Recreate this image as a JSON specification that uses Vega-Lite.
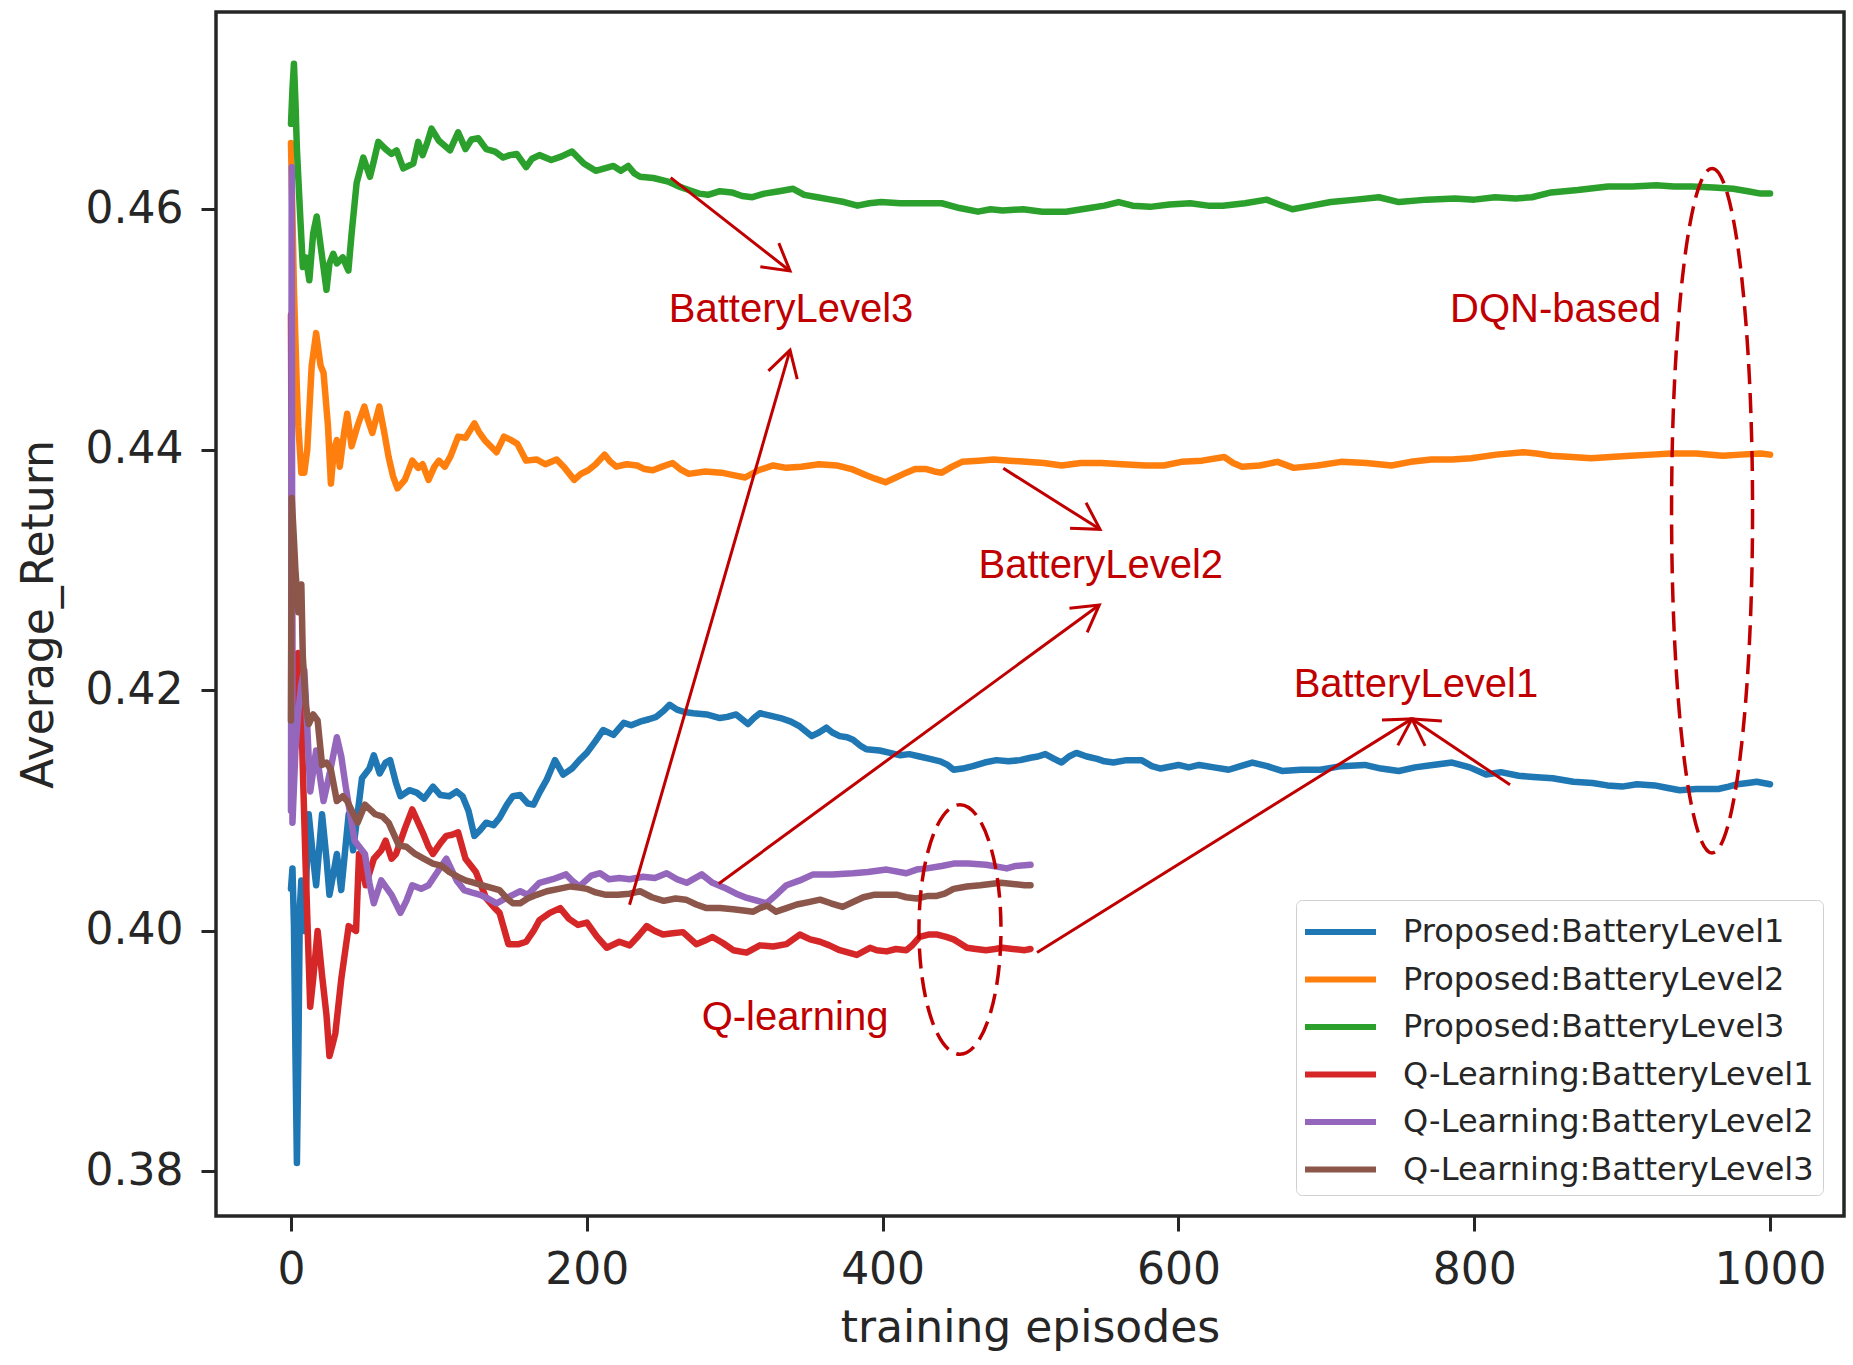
{
  "$schema": "https://vega.github.io/schema/vega-lite/v6.json",
  "width": 1628,
  "height": 1204,
  "autosize": {"type": "none"},
  "padding": {"left": 216, "top": 12, "right": 9, "bottom": 149},
  "background": "white",
  "config": {
    "view": {"stroke": "#262626", "strokeWidth": 3.5},
    "font": "DejaVu Sans",
    "axis": {
      "domain": false,
      "grid": false,
      "labelFont": "DejaVu Sans",
      "labelFontSize": 44,
      "labelColor": "#262626",
      "tickColor": "#262626",
      "tickSize": 15,
      "tickWidth": 3,
      "titleFont": "DejaVu Sans",
      "titleFontSize": 44,
      "titleFontWeight": "normal",
      "titleColor": "#262626"
    }
  },
  "datasets": {
    "curves": [
      {"series": "Proposed:BatteryLevel1", "episode": 0, "value": 0.4035},
      {"series": "Proposed:BatteryLevel1", "episode": 1, "value": 0.4052},
      {"series": "Proposed:BatteryLevel1", "episode": 2, "value": 0.4005},
      {"series": "Proposed:BatteryLevel1", "episode": 3, "value": 0.39},
      {"series": "Proposed:BatteryLevel1", "episode": 4, "value": 0.3807},
      {"series": "Proposed:BatteryLevel1", "episode": 5, "value": 0.39},
      {"series": "Proposed:BatteryLevel1", "episode": 6, "value": 0.402},
      {"series": "Proposed:BatteryLevel1", "episode": 7, "value": 0.4042},
      {"series": "Proposed:BatteryLevel1", "episode": 9, "value": 0.4},
      {"series": "Proposed:BatteryLevel1", "episode": 12, "value": 0.4097},
      {"series": "Proposed:BatteryLevel1", "episode": 15, "value": 0.406},
      {"series": "Proposed:BatteryLevel1", "episode": 17, "value": 0.4038},
      {"series": "Proposed:BatteryLevel1", "episode": 21, "value": 0.4097},
      {"series": "Proposed:BatteryLevel1", "episode": 24, "value": 0.406},
      {"series": "Proposed:BatteryLevel1", "episode": 26, "value": 0.403},
      {"series": "Proposed:BatteryLevel1", "episode": 29, "value": 0.405},
      {"series": "Proposed:BatteryLevel1", "episode": 31, "value": 0.4064},
      {"series": "Proposed:BatteryLevel1", "episode": 34, "value": 0.4034},
      {"series": "Proposed:BatteryLevel1", "episode": 39, "value": 0.4097},
      {"series": "Proposed:BatteryLevel1", "episode": 42, "value": 0.4067},
      {"series": "Proposed:BatteryLevel1", "episode": 48, "value": 0.4127},
      {"series": "Proposed:BatteryLevel1", "episode": 53, "value": 0.4135},
      {"series": "Proposed:BatteryLevel1", "episode": 56, "value": 0.4146},
      {"series": "Proposed:BatteryLevel1", "episode": 60, "value": 0.4131},
      {"series": "Proposed:BatteryLevel1", "episode": 64, "value": 0.414},
      {"series": "Proposed:BatteryLevel1", "episode": 67, "value": 0.4142},
      {"series": "Proposed:BatteryLevel1", "episode": 71, "value": 0.4123},
      {"series": "Proposed:BatteryLevel1", "episode": 74, "value": 0.4112},
      {"series": "Proposed:BatteryLevel1", "episode": 80, "value": 0.4117},
      {"series": "Proposed:BatteryLevel1", "episode": 85, "value": 0.4115},
      {"series": "Proposed:BatteryLevel1", "episode": 90, "value": 0.411},
      {"series": "Proposed:BatteryLevel1", "episode": 96, "value": 0.412},
      {"series": "Proposed:BatteryLevel1", "episode": 101, "value": 0.4113},
      {"series": "Proposed:BatteryLevel1", "episode": 107, "value": 0.4112},
      {"series": "Proposed:BatteryLevel1", "episode": 112, "value": 0.4116},
      {"series": "Proposed:BatteryLevel1", "episode": 116, "value": 0.4112},
      {"series": "Proposed:BatteryLevel1", "episode": 120, "value": 0.41},
      {"series": "Proposed:BatteryLevel1", "episode": 124, "value": 0.4079},
      {"series": "Proposed:BatteryLevel1", "episode": 128, "value": 0.4084},
      {"series": "Proposed:BatteryLevel1", "episode": 132, "value": 0.409},
      {"series": "Proposed:BatteryLevel1", "episode": 137, "value": 0.4088},
      {"series": "Proposed:BatteryLevel1", "episode": 141, "value": 0.4094},
      {"series": "Proposed:BatteryLevel1", "episode": 146, "value": 0.4105},
      {"series": "Proposed:BatteryLevel1", "episode": 150, "value": 0.4112},
      {"series": "Proposed:BatteryLevel1", "episode": 155, "value": 0.4113},
      {"series": "Proposed:BatteryLevel1", "episode": 160, "value": 0.4106},
      {"series": "Proposed:BatteryLevel1", "episode": 164, "value": 0.4105},
      {"series": "Proposed:BatteryLevel1", "episode": 168, "value": 0.4115},
      {"series": "Proposed:BatteryLevel1", "episode": 173, "value": 0.4126},
      {"series": "Proposed:BatteryLevel1", "episode": 178.5, "value": 0.4142},
      {"series": "Proposed:BatteryLevel1", "episode": 184, "value": 0.413},
      {"series": "Proposed:BatteryLevel1", "episode": 190, "value": 0.4135},
      {"series": "Proposed:BatteryLevel1", "episode": 195, "value": 0.4142},
      {"series": "Proposed:BatteryLevel1", "episode": 200, "value": 0.4148},
      {"series": "Proposed:BatteryLevel1", "episode": 206, "value": 0.4158},
      {"series": "Proposed:BatteryLevel1", "episode": 211, "value": 0.4167},
      {"series": "Proposed:BatteryLevel1", "episode": 218, "value": 0.4163},
      {"series": "Proposed:BatteryLevel1", "episode": 225, "value": 0.4173},
      {"series": "Proposed:BatteryLevel1", "episode": 230, "value": 0.4171},
      {"series": "Proposed:BatteryLevel1", "episode": 236, "value": 0.4174},
      {"series": "Proposed:BatteryLevel1", "episode": 242, "value": 0.4176},
      {"series": "Proposed:BatteryLevel1", "episode": 247, "value": 0.4178},
      {"series": "Proposed:BatteryLevel1", "episode": 252, "value": 0.4183},
      {"series": "Proposed:BatteryLevel1", "episode": 256, "value": 0.4188},
      {"series": "Proposed:BatteryLevel1", "episode": 261, "value": 0.4184},
      {"series": "Proposed:BatteryLevel1", "episode": 266, "value": 0.4182},
      {"series": "Proposed:BatteryLevel1", "episode": 272, "value": 0.4181},
      {"series": "Proposed:BatteryLevel1", "episode": 281, "value": 0.418},
      {"series": "Proposed:BatteryLevel1", "episode": 290, "value": 0.4177},
      {"series": "Proposed:BatteryLevel1", "episode": 295, "value": 0.4178},
      {"series": "Proposed:BatteryLevel1", "episode": 301, "value": 0.418},
      {"series": "Proposed:BatteryLevel1", "episode": 305, "value": 0.4176},
      {"series": "Proposed:BatteryLevel1", "episode": 309, "value": 0.4172},
      {"series": "Proposed:BatteryLevel1", "episode": 313, "value": 0.4177},
      {"series": "Proposed:BatteryLevel1", "episode": 317, "value": 0.4181},
      {"series": "Proposed:BatteryLevel1", "episode": 324, "value": 0.4179},
      {"series": "Proposed:BatteryLevel1", "episode": 331, "value": 0.4177},
      {"series": "Proposed:BatteryLevel1", "episode": 338, "value": 0.4174},
      {"series": "Proposed:BatteryLevel1", "episode": 344, "value": 0.417},
      {"series": "Proposed:BatteryLevel1", "episode": 348, "value": 0.4166},
      {"series": "Proposed:BatteryLevel1", "episode": 352, "value": 0.4162},
      {"series": "Proposed:BatteryLevel1", "episode": 357, "value": 0.4165},
      {"series": "Proposed:BatteryLevel1", "episode": 362, "value": 0.4169},
      {"series": "Proposed:BatteryLevel1", "episode": 366, "value": 0.4165},
      {"series": "Proposed:BatteryLevel1", "episode": 371, "value": 0.4162},
      {"series": "Proposed:BatteryLevel1", "episode": 376, "value": 0.4161},
      {"series": "Proposed:BatteryLevel1", "episode": 380, "value": 0.4159},
      {"series": "Proposed:BatteryLevel1", "episode": 385, "value": 0.4154},
      {"series": "Proposed:BatteryLevel1", "episode": 389, "value": 0.4151},
      {"series": "Proposed:BatteryLevel1", "episode": 398, "value": 0.415},
      {"series": "Proposed:BatteryLevel1", "episode": 405, "value": 0.4148},
      {"series": "Proposed:BatteryLevel1", "episode": 412, "value": 0.4146},
      {"series": "Proposed:BatteryLevel1", "episode": 418, "value": 0.4147},
      {"series": "Proposed:BatteryLevel1", "episode": 425, "value": 0.4145},
      {"series": "Proposed:BatteryLevel1", "episode": 432, "value": 0.4143},
      {"series": "Proposed:BatteryLevel1", "episode": 439, "value": 0.4141},
      {"series": "Proposed:BatteryLevel1", "episode": 444, "value": 0.4138},
      {"series": "Proposed:BatteryLevel1", "episode": 448, "value": 0.4134},
      {"series": "Proposed:BatteryLevel1", "episode": 454, "value": 0.4135},
      {"series": "Proposed:BatteryLevel1", "episode": 461, "value": 0.4137},
      {"series": "Proposed:BatteryLevel1", "episode": 469, "value": 0.414},
      {"series": "Proposed:BatteryLevel1", "episode": 477, "value": 0.4142},
      {"series": "Proposed:BatteryLevel1", "episode": 485, "value": 0.4141},
      {"series": "Proposed:BatteryLevel1", "episode": 493, "value": 0.4142},
      {"series": "Proposed:BatteryLevel1", "episode": 500, "value": 0.4144},
      {"series": "Proposed:BatteryLevel1", "episode": 505, "value": 0.4145},
      {"series": "Proposed:BatteryLevel1", "episode": 510, "value": 0.4147},
      {"series": "Proposed:BatteryLevel1", "episode": 516, "value": 0.4143},
      {"series": "Proposed:BatteryLevel1", "episode": 521, "value": 0.414},
      {"series": "Proposed:BatteryLevel1", "episode": 526, "value": 0.4145},
      {"series": "Proposed:BatteryLevel1", "episode": 531, "value": 0.4148},
      {"series": "Proposed:BatteryLevel1", "episode": 538, "value": 0.4145},
      {"series": "Proposed:BatteryLevel1", "episode": 545, "value": 0.4143},
      {"series": "Proposed:BatteryLevel1", "episode": 550, "value": 0.4141},
      {"series": "Proposed:BatteryLevel1", "episode": 556, "value": 0.414},
      {"series": "Proposed:BatteryLevel1", "episode": 565, "value": 0.4142},
      {"series": "Proposed:BatteryLevel1", "episode": 575, "value": 0.4142},
      {"series": "Proposed:BatteryLevel1", "episode": 582, "value": 0.4137},
      {"series": "Proposed:BatteryLevel1", "episode": 588, "value": 0.4135},
      {"series": "Proposed:BatteryLevel1", "episode": 600, "value": 0.4138},
      {"series": "Proposed:BatteryLevel1", "episode": 607, "value": 0.4136},
      {"series": "Proposed:BatteryLevel1", "episode": 614, "value": 0.4138},
      {"series": "Proposed:BatteryLevel1", "episode": 624, "value": 0.4136},
      {"series": "Proposed:BatteryLevel1", "episode": 634, "value": 0.4134},
      {"series": "Proposed:BatteryLevel1", "episode": 642, "value": 0.4137},
      {"series": "Proposed:BatteryLevel1", "episode": 650, "value": 0.414},
      {"series": "Proposed:BatteryLevel1", "episode": 660, "value": 0.4137},
      {"series": "Proposed:BatteryLevel1", "episode": 670, "value": 0.4133},
      {"series": "Proposed:BatteryLevel1", "episode": 683, "value": 0.4134},
      {"series": "Proposed:BatteryLevel1", "episode": 696, "value": 0.4134},
      {"series": "Proposed:BatteryLevel1", "episode": 710, "value": 0.4137},
      {"series": "Proposed:BatteryLevel1", "episode": 726, "value": 0.4138},
      {"series": "Proposed:BatteryLevel1", "episode": 737, "value": 0.4135},
      {"series": "Proposed:BatteryLevel1", "episode": 749, "value": 0.4133},
      {"series": "Proposed:BatteryLevel1", "episode": 760, "value": 0.4136},
      {"series": "Proposed:BatteryLevel1", "episode": 772, "value": 0.4138},
      {"series": "Proposed:BatteryLevel1", "episode": 785, "value": 0.414},
      {"series": "Proposed:BatteryLevel1", "episode": 797, "value": 0.4136},
      {"series": "Proposed:BatteryLevel1", "episode": 808, "value": 0.413},
      {"series": "Proposed:BatteryLevel1", "episode": 818, "value": 0.4132},
      {"series": "Proposed:BatteryLevel1", "episode": 830, "value": 0.4129},
      {"series": "Proposed:BatteryLevel1", "episode": 840, "value": 0.4128},
      {"series": "Proposed:BatteryLevel1", "episode": 853, "value": 0.4127},
      {"series": "Proposed:BatteryLevel1", "episode": 867, "value": 0.4124},
      {"series": "Proposed:BatteryLevel1", "episode": 880, "value": 0.4123},
      {"series": "Proposed:BatteryLevel1", "episode": 890, "value": 0.4121},
      {"series": "Proposed:BatteryLevel1", "episode": 900, "value": 0.412},
      {"series": "Proposed:BatteryLevel1", "episode": 910, "value": 0.4122},
      {"series": "Proposed:BatteryLevel1", "episode": 922, "value": 0.4121},
      {"series": "Proposed:BatteryLevel1", "episode": 930, "value": 0.4119},
      {"series": "Proposed:BatteryLevel1", "episode": 939, "value": 0.4117},
      {"series": "Proposed:BatteryLevel1", "episode": 950, "value": 0.4118},
      {"series": "Proposed:BatteryLevel1", "episode": 965, "value": 0.4118},
      {"series": "Proposed:BatteryLevel1", "episode": 972, "value": 0.412},
      {"series": "Proposed:BatteryLevel1", "episode": 978, "value": 0.4122},
      {"series": "Proposed:BatteryLevel1", "episode": 985, "value": 0.4123},
      {"series": "Proposed:BatteryLevel1", "episode": 991, "value": 0.4124},
      {"series": "Proposed:BatteryLevel1", "episode": 1000, "value": 0.4122},

      {"series": "Proposed:BatteryLevel2", "episode": 0, "value": 0.4655},
      {"series": "Proposed:BatteryLevel2", "episode": 1, "value": 0.4594},
      {"series": "Proposed:BatteryLevel2", "episode": 2, "value": 0.4533},
      {"series": "Proposed:BatteryLevel2", "episode": 3, "value": 0.4491},
      {"series": "Proposed:BatteryLevel2", "episode": 4, "value": 0.445},
      {"series": "Proposed:BatteryLevel2", "episode": 5, "value": 0.4419},
      {"series": "Proposed:BatteryLevel2", "episode": 7, "value": 0.4381},
      {"series": "Proposed:BatteryLevel2", "episode": 9, "value": 0.4381},
      {"series": "Proposed:BatteryLevel2", "episode": 11, "value": 0.44},
      {"series": "Proposed:BatteryLevel2", "episode": 14, "value": 0.447},
      {"series": "Proposed:BatteryLevel2", "episode": 17, "value": 0.4497},
      {"series": "Proposed:BatteryLevel2", "episode": 20, "value": 0.447},
      {"series": "Proposed:BatteryLevel2", "episode": 22, "value": 0.4464},
      {"series": "Proposed:BatteryLevel2", "episode": 25, "value": 0.442},
      {"series": "Proposed:BatteryLevel2", "episode": 27, "value": 0.4372},
      {"series": "Proposed:BatteryLevel2", "episode": 29, "value": 0.44},
      {"series": "Proposed:BatteryLevel2", "episode": 31, "value": 0.4408},
      {"series": "Proposed:BatteryLevel2", "episode": 33, "value": 0.4386},
      {"series": "Proposed:BatteryLevel2", "episode": 36, "value": 0.4415},
      {"series": "Proposed:BatteryLevel2", "episode": 38, "value": 0.443},
      {"series": "Proposed:BatteryLevel2", "episode": 41, "value": 0.4403},
      {"series": "Proposed:BatteryLevel2", "episode": 45, "value": 0.442},
      {"series": "Proposed:BatteryLevel2", "episode": 49.6, "value": 0.4436},
      {"series": "Proposed:BatteryLevel2", "episode": 52, "value": 0.4425},
      {"series": "Proposed:BatteryLevel2", "episode": 55, "value": 0.4414},
      {"series": "Proposed:BatteryLevel2", "episode": 59.7, "value": 0.4436},
      {"series": "Proposed:BatteryLevel2", "episode": 63, "value": 0.4415},
      {"series": "Proposed:BatteryLevel2", "episode": 66, "value": 0.4394},
      {"series": "Proposed:BatteryLevel2", "episode": 69, "value": 0.4378},
      {"series": "Proposed:BatteryLevel2", "episode": 72, "value": 0.4368},
      {"series": "Proposed:BatteryLevel2", "episode": 77, "value": 0.4375},
      {"series": "Proposed:BatteryLevel2", "episode": 82, "value": 0.4391},
      {"series": "Proposed:BatteryLevel2", "episode": 86, "value": 0.4385},
      {"series": "Proposed:BatteryLevel2", "episode": 89, "value": 0.4388},
      {"series": "Proposed:BatteryLevel2", "episode": 93, "value": 0.4375},
      {"series": "Proposed:BatteryLevel2", "episode": 97, "value": 0.4386},
      {"series": "Proposed:BatteryLevel2", "episode": 100, "value": 0.4391},
      {"series": "Proposed:BatteryLevel2", "episode": 104, "value": 0.4386},
      {"series": "Proposed:BatteryLevel2", "episode": 108, "value": 0.4395},
      {"series": "Proposed:BatteryLevel2", "episode": 113, "value": 0.4411},
      {"series": "Proposed:BatteryLevel2", "episode": 118, "value": 0.441},
      {"series": "Proposed:BatteryLevel2", "episode": 124, "value": 0.4422},
      {"series": "Proposed:BatteryLevel2", "episode": 127, "value": 0.4415},
      {"series": "Proposed:BatteryLevel2", "episode": 131, "value": 0.4408},
      {"series": "Proposed:BatteryLevel2", "episode": 135, "value": 0.4403},
      {"series": "Proposed:BatteryLevel2", "episode": 139, "value": 0.4398},
      {"series": "Proposed:BatteryLevel2", "episode": 144, "value": 0.4411},
      {"series": "Proposed:BatteryLevel2", "episode": 149, "value": 0.4408},
      {"series": "Proposed:BatteryLevel2", "episode": 153, "value": 0.4405},
      {"series": "Proposed:BatteryLevel2", "episode": 159, "value": 0.4391},
      {"series": "Proposed:BatteryLevel2", "episode": 166, "value": 0.4392},
      {"series": "Proposed:BatteryLevel2", "episode": 172, "value": 0.4388},
      {"series": "Proposed:BatteryLevel2", "episode": 179.6, "value": 0.4392},
      {"series": "Proposed:BatteryLevel2", "episode": 185, "value": 0.4385},
      {"series": "Proposed:BatteryLevel2", "episode": 191.5, "value": 0.4375},
      {"series": "Proposed:BatteryLevel2", "episode": 196, "value": 0.438},
      {"series": "Proposed:BatteryLevel2", "episode": 201, "value": 0.4383},
      {"series": "Proposed:BatteryLevel2", "episode": 206, "value": 0.4388},
      {"series": "Proposed:BatteryLevel2", "episode": 212, "value": 0.4396},
      {"series": "Proposed:BatteryLevel2", "episode": 216, "value": 0.439},
      {"series": "Proposed:BatteryLevel2", "episode": 220, "value": 0.4386},
      {"series": "Proposed:BatteryLevel2", "episode": 227, "value": 0.4388},
      {"series": "Proposed:BatteryLevel2", "episode": 234, "value": 0.4387},
      {"series": "Proposed:BatteryLevel2", "episode": 239, "value": 0.4384},
      {"series": "Proposed:BatteryLevel2", "episode": 244.6, "value": 0.4383},
      {"series": "Proposed:BatteryLevel2", "episode": 251, "value": 0.4386},
      {"series": "Proposed:BatteryLevel2", "episode": 258, "value": 0.4389},
      {"series": "Proposed:BatteryLevel2", "episode": 263, "value": 0.4384},
      {"series": "Proposed:BatteryLevel2", "episode": 269, "value": 0.438},
      {"series": "Proposed:BatteryLevel2", "episode": 280, "value": 0.4382},
      {"series": "Proposed:BatteryLevel2", "episode": 291, "value": 0.4381},
      {"series": "Proposed:BatteryLevel2", "episode": 299, "value": 0.4379},
      {"series": "Proposed:BatteryLevel2", "episode": 307, "value": 0.4377},
      {"series": "Proposed:BatteryLevel2", "episode": 316, "value": 0.4383},
      {"series": "Proposed:BatteryLevel2", "episode": 326, "value": 0.4387},
      {"series": "Proposed:BatteryLevel2", "episode": 335, "value": 0.4385},
      {"series": "Proposed:BatteryLevel2", "episode": 345, "value": 0.4386},
      {"series": "Proposed:BatteryLevel2", "episode": 357, "value": 0.4388},
      {"series": "Proposed:BatteryLevel2", "episode": 369, "value": 0.4387},
      {"series": "Proposed:BatteryLevel2", "episode": 379, "value": 0.4384},
      {"series": "Proposed:BatteryLevel2", "episode": 388.5, "value": 0.4379},
      {"series": "Proposed:BatteryLevel2", "episode": 395, "value": 0.4376},
      {"series": "Proposed:BatteryLevel2", "episode": 402, "value": 0.4373},
      {"series": "Proposed:BatteryLevel2", "episode": 409, "value": 0.4377},
      {"series": "Proposed:BatteryLevel2", "episode": 416, "value": 0.4381},
      {"series": "Proposed:BatteryLevel2", "episode": 422, "value": 0.4384},
      {"series": "Proposed:BatteryLevel2", "episode": 429.6, "value": 0.4384},
      {"series": "Proposed:BatteryLevel2", "episode": 435, "value": 0.4382},
      {"series": "Proposed:BatteryLevel2", "episode": 440, "value": 0.4381},
      {"series": "Proposed:BatteryLevel2", "episode": 447, "value": 0.4386},
      {"series": "Proposed:BatteryLevel2", "episode": 453.7, "value": 0.439},
      {"series": "Proposed:BatteryLevel2", "episode": 465, "value": 0.4391},
      {"series": "Proposed:BatteryLevel2", "episode": 475, "value": 0.4392},
      {"series": "Proposed:BatteryLevel2", "episode": 486, "value": 0.4391},
      {"series": "Proposed:BatteryLevel2", "episode": 497, "value": 0.439},
      {"series": "Proposed:BatteryLevel2", "episode": 509, "value": 0.4389},
      {"series": "Proposed:BatteryLevel2", "episode": 521, "value": 0.4387},
      {"series": "Proposed:BatteryLevel2", "episode": 534, "value": 0.4389},
      {"series": "Proposed:BatteryLevel2", "episode": 548, "value": 0.4389},
      {"series": "Proposed:BatteryLevel2", "episode": 562, "value": 0.4388},
      {"series": "Proposed:BatteryLevel2", "episode": 578, "value": 0.4387},
      {"series": "Proposed:BatteryLevel2", "episode": 590, "value": 0.4387},
      {"series": "Proposed:BatteryLevel2", "episode": 602, "value": 0.439},
      {"series": "Proposed:BatteryLevel2", "episode": 616, "value": 0.4391},
      {"series": "Proposed:BatteryLevel2", "episode": 631, "value": 0.4394},
      {"series": "Proposed:BatteryLevel2", "episode": 637, "value": 0.4389},
      {"series": "Proposed:BatteryLevel2", "episode": 643, "value": 0.4386},
      {"series": "Proposed:BatteryLevel2", "episode": 655, "value": 0.4387},
      {"series": "Proposed:BatteryLevel2", "episode": 667, "value": 0.439},
      {"series": "Proposed:BatteryLevel2", "episode": 678, "value": 0.4385},
      {"series": "Proposed:BatteryLevel2", "episode": 694, "value": 0.4387},
      {"series": "Proposed:BatteryLevel2", "episode": 710, "value": 0.439},
      {"series": "Proposed:BatteryLevel2", "episode": 727, "value": 0.4389},
      {"series": "Proposed:BatteryLevel2", "episode": 744, "value": 0.4387},
      {"series": "Proposed:BatteryLevel2", "episode": 757, "value": 0.439},
      {"series": "Proposed:BatteryLevel2", "episode": 771, "value": 0.4392},
      {"series": "Proposed:BatteryLevel2", "episode": 785, "value": 0.4392},
      {"series": "Proposed:BatteryLevel2", "episode": 798, "value": 0.4393},
      {"series": "Proposed:BatteryLevel2", "episode": 815, "value": 0.4396},
      {"series": "Proposed:BatteryLevel2", "episode": 833, "value": 0.4398},
      {"series": "Proposed:BatteryLevel2", "episode": 842, "value": 0.4397},
      {"series": "Proposed:BatteryLevel2", "episode": 852, "value": 0.4395},
      {"series": "Proposed:BatteryLevel2", "episode": 866, "value": 0.4394},
      {"series": "Proposed:BatteryLevel2", "episode": 879, "value": 0.4393},
      {"series": "Proposed:BatteryLevel2", "episode": 892, "value": 0.4394},
      {"series": "Proposed:BatteryLevel2", "episode": 906, "value": 0.4395},
      {"series": "Proposed:BatteryLevel2", "episode": 920, "value": 0.4396},
      {"series": "Proposed:BatteryLevel2", "episode": 933, "value": 0.4397},
      {"series": "Proposed:BatteryLevel2", "episode": 950, "value": 0.4397},
      {"series": "Proposed:BatteryLevel2", "episode": 968, "value": 0.4395},
      {"series": "Proposed:BatteryLevel2", "episode": 980, "value": 0.4396},
      {"series": "Proposed:BatteryLevel2", "episode": 993.7, "value": 0.4397},
      {"series": "Proposed:BatteryLevel2", "episode": 1000, "value": 0.4396},

      {"series": "Proposed:BatteryLevel3", "episode": 0, "value": 0.4671},
      {"series": "Proposed:BatteryLevel3", "episode": 1, "value": 0.47},
      {"series": "Proposed:BatteryLevel3", "episode": 2, "value": 0.4721},
      {"series": "Proposed:BatteryLevel3", "episode": 3, "value": 0.469},
      {"series": "Proposed:BatteryLevel3", "episode": 4, "value": 0.465},
      {"series": "Proposed:BatteryLevel3", "episode": 6, "value": 0.46},
      {"series": "Proposed:BatteryLevel3", "episode": 8, "value": 0.4552},
      {"series": "Proposed:BatteryLevel3", "episode": 10, "value": 0.456},
      {"series": "Proposed:BatteryLevel3", "episode": 12.4, "value": 0.4541},
      {"series": "Proposed:BatteryLevel3", "episode": 15, "value": 0.458},
      {"series": "Proposed:BatteryLevel3", "episode": 17.4, "value": 0.4594},
      {"series": "Proposed:BatteryLevel3", "episode": 20, "value": 0.457},
      {"series": "Proposed:BatteryLevel3", "episode": 24, "value": 0.4533},
      {"series": "Proposed:BatteryLevel3", "episode": 26, "value": 0.4555},
      {"series": "Proposed:BatteryLevel3", "episode": 28.6, "value": 0.4563},
      {"series": "Proposed:BatteryLevel3", "episode": 31, "value": 0.4555},
      {"series": "Proposed:BatteryLevel3", "episode": 35, "value": 0.456},
      {"series": "Proposed:BatteryLevel3", "episode": 38.8, "value": 0.4549},
      {"series": "Proposed:BatteryLevel3", "episode": 41, "value": 0.458},
      {"series": "Proposed:BatteryLevel3", "episode": 44.4, "value": 0.4622},
      {"series": "Proposed:BatteryLevel3", "episode": 48.9, "value": 0.4643},
      {"series": "Proposed:BatteryLevel3", "episode": 53.4, "value": 0.4627},
      {"series": "Proposed:BatteryLevel3", "episode": 56, "value": 0.464},
      {"series": "Proposed:BatteryLevel3", "episode": 59, "value": 0.4656},
      {"series": "Proposed:BatteryLevel3", "episode": 64, "value": 0.465},
      {"series": "Proposed:BatteryLevel3", "episode": 68, "value": 0.4646},
      {"series": "Proposed:BatteryLevel3", "episode": 71.4, "value": 0.4649},
      {"series": "Proposed:BatteryLevel3", "episode": 75.9, "value": 0.4634},
      {"series": "Proposed:BatteryLevel3", "episode": 82.7, "value": 0.4638},
      {"series": "Proposed:BatteryLevel3", "episode": 86, "value": 0.4656},
      {"series": "Proposed:BatteryLevel3", "episode": 89, "value": 0.4645},
      {"series": "Proposed:BatteryLevel3", "episode": 92, "value": 0.4655},
      {"series": "Proposed:BatteryLevel3", "episode": 95, "value": 0.4667},
      {"series": "Proposed:BatteryLevel3", "episode": 100, "value": 0.4657},
      {"series": "Proposed:BatteryLevel3", "episode": 107.5, "value": 0.4649},
      {"series": "Proposed:BatteryLevel3", "episode": 113, "value": 0.4664},
      {"series": "Proposed:BatteryLevel3", "episode": 118, "value": 0.465},
      {"series": "Proposed:BatteryLevel3", "episode": 122, "value": 0.4658},
      {"series": "Proposed:BatteryLevel3", "episode": 126.6, "value": 0.4659},
      {"series": "Proposed:BatteryLevel3", "episode": 132, "value": 0.465},
      {"series": "Proposed:BatteryLevel3", "episode": 138, "value": 0.4648},
      {"series": "Proposed:BatteryLevel3", "episode": 143.5, "value": 0.4643},
      {"series": "Proposed:BatteryLevel3", "episode": 148, "value": 0.4645},
      {"series": "Proposed:BatteryLevel3", "episode": 152.6, "value": 0.4646},
      {"series": "Proposed:BatteryLevel3", "episode": 159, "value": 0.4635},
      {"series": "Proposed:BatteryLevel3", "episode": 163, "value": 0.4642},
      {"series": "Proposed:BatteryLevel3", "episode": 168, "value": 0.4645},
      {"series": "Proposed:BatteryLevel3", "episode": 176, "value": 0.4641},
      {"series": "Proposed:BatteryLevel3", "episode": 183, "value": 0.4644},
      {"series": "Proposed:BatteryLevel3", "episode": 190, "value": 0.4648},
      {"series": "Proposed:BatteryLevel3", "episode": 198, "value": 0.4638},
      {"series": "Proposed:BatteryLevel3", "episode": 206, "value": 0.4632},
      {"series": "Proposed:BatteryLevel3", "episode": 212, "value": 0.4634},
      {"series": "Proposed:BatteryLevel3", "episode": 218, "value": 0.4636},
      {"series": "Proposed:BatteryLevel3", "episode": 223, "value": 0.4632},
      {"series": "Proposed:BatteryLevel3", "episode": 228, "value": 0.4636},
      {"series": "Proposed:BatteryLevel3", "episode": 232, "value": 0.463},
      {"series": "Proposed:BatteryLevel3", "episode": 236, "value": 0.4627},
      {"series": "Proposed:BatteryLevel3", "episode": 245, "value": 0.4626},
      {"series": "Proposed:BatteryLevel3", "episode": 255, "value": 0.4623},
      {"series": "Proposed:BatteryLevel3", "episode": 262, "value": 0.4619},
      {"series": "Proposed:BatteryLevel3", "episode": 269, "value": 0.4616},
      {"series": "Proposed:BatteryLevel3", "episode": 276, "value": 0.4613},
      {"series": "Proposed:BatteryLevel3", "episode": 282, "value": 0.4612},
      {"series": "Proposed:BatteryLevel3", "episode": 290, "value": 0.4615},
      {"series": "Proposed:BatteryLevel3", "episode": 298, "value": 0.4614},
      {"series": "Proposed:BatteryLevel3", "episode": 305, "value": 0.4611},
      {"series": "Proposed:BatteryLevel3", "episode": 312, "value": 0.461},
      {"series": "Proposed:BatteryLevel3", "episode": 320, "value": 0.4613},
      {"series": "Proposed:BatteryLevel3", "episode": 330, "value": 0.4615},
      {"series": "Proposed:BatteryLevel3", "episode": 339.5, "value": 0.4617},
      {"series": "Proposed:BatteryLevel3", "episode": 347, "value": 0.4612},
      {"series": "Proposed:BatteryLevel3", "episode": 356, "value": 0.461},
      {"series": "Proposed:BatteryLevel3", "episode": 365, "value": 0.4608},
      {"series": "Proposed:BatteryLevel3", "episode": 374, "value": 0.4606},
      {"series": "Proposed:BatteryLevel3", "episode": 383, "value": 0.4603},
      {"series": "Proposed:BatteryLevel3", "episode": 391, "value": 0.4605},
      {"series": "Proposed:BatteryLevel3", "episode": 399, "value": 0.4606},
      {"series": "Proposed:BatteryLevel3", "episode": 412, "value": 0.4605},
      {"series": "Proposed:BatteryLevel3", "episode": 426.5, "value": 0.4605},
      {"series": "Proposed:BatteryLevel3", "episode": 440, "value": 0.4605},
      {"series": "Proposed:BatteryLevel3", "episode": 452, "value": 0.4601},
      {"series": "Proposed:BatteryLevel3", "episode": 464.5, "value": 0.4598},
      {"series": "Proposed:BatteryLevel3", "episode": 473, "value": 0.46},
      {"series": "Proposed:BatteryLevel3", "episode": 481, "value": 0.4599},
      {"series": "Proposed:BatteryLevel3", "episode": 495, "value": 0.46},
      {"series": "Proposed:BatteryLevel3", "episode": 508, "value": 0.4598},
      {"series": "Proposed:BatteryLevel3", "episode": 524, "value": 0.4598},
      {"series": "Proposed:BatteryLevel3", "episode": 540, "value": 0.4601},
      {"series": "Proposed:BatteryLevel3", "episode": 550, "value": 0.4603},
      {"series": "Proposed:BatteryLevel3", "episode": 559.6, "value": 0.4606},
      {"series": "Proposed:BatteryLevel3", "episode": 569, "value": 0.4603},
      {"series": "Proposed:BatteryLevel3", "episode": 580.8, "value": 0.4602},
      {"series": "Proposed:BatteryLevel3", "episode": 594, "value": 0.4604},
      {"series": "Proposed:BatteryLevel3", "episode": 608, "value": 0.4605},
      {"series": "Proposed:BatteryLevel3", "episode": 620, "value": 0.4603},
      {"series": "Proposed:BatteryLevel3", "episode": 630, "value": 0.4603},
      {"series": "Proposed:BatteryLevel3", "episode": 645, "value": 0.4605},
      {"series": "Proposed:BatteryLevel3", "episode": 659.6, "value": 0.4608},
      {"series": "Proposed:BatteryLevel3", "episode": 668, "value": 0.4604},
      {"series": "Proposed:BatteryLevel3", "episode": 677, "value": 0.46},
      {"series": "Proposed:BatteryLevel3", "episode": 690, "value": 0.4603},
      {"series": "Proposed:BatteryLevel3", "episode": 703, "value": 0.4606},
      {"series": "Proposed:BatteryLevel3", "episode": 720, "value": 0.4608},
      {"series": "Proposed:BatteryLevel3", "episode": 735.6, "value": 0.461},
      {"series": "Proposed:BatteryLevel3", "episode": 749, "value": 0.4606},
      {"series": "Proposed:BatteryLevel3", "episode": 768, "value": 0.4608},
      {"series": "Proposed:BatteryLevel3", "episode": 787, "value": 0.4609},
      {"series": "Proposed:BatteryLevel3", "episode": 800, "value": 0.4608},
      {"series": "Proposed:BatteryLevel3", "episode": 814, "value": 0.461},
      {"series": "Proposed:BatteryLevel3", "episode": 828, "value": 0.4609},
      {"series": "Proposed:BatteryLevel3", "episode": 839, "value": 0.461},
      {"series": "Proposed:BatteryLevel3", "episode": 852, "value": 0.4614},
      {"series": "Proposed:BatteryLevel3", "episode": 870, "value": 0.4616},
      {"series": "Proposed:BatteryLevel3", "episode": 890.5, "value": 0.4619},
      {"series": "Proposed:BatteryLevel3", "episode": 907, "value": 0.4619},
      {"series": "Proposed:BatteryLevel3", "episode": 923, "value": 0.462},
      {"series": "Proposed:BatteryLevel3", "episode": 935, "value": 0.4619},
      {"series": "Proposed:BatteryLevel3", "episode": 947, "value": 0.4619},
      {"series": "Proposed:BatteryLevel3", "episode": 962, "value": 0.4618},
      {"series": "Proposed:BatteryLevel3", "episode": 975, "value": 0.4617},
      {"series": "Proposed:BatteryLevel3", "episode": 985, "value": 0.4615},
      {"series": "Proposed:BatteryLevel3", "episode": 993.7, "value": 0.4613},
      {"series": "Proposed:BatteryLevel3", "episode": 1000, "value": 0.4613},

      {"series": "Q-Learning:BatteryLevel1", "episode": 0, "value": 0.4512},
      {"series": "Q-Learning:BatteryLevel1", "episode": 1, "value": 0.415},
      {"series": "Q-Learning:BatteryLevel1", "episode": 3, "value": 0.419},
      {"series": "Q-Learning:BatteryLevel1", "episode": 5, "value": 0.4231},
      {"series": "Q-Learning:BatteryLevel1", "episode": 6, "value": 0.4225},
      {"series": "Q-Learning:BatteryLevel1", "episode": 8, "value": 0.4135},
      {"series": "Q-Learning:BatteryLevel1", "episode": 10, "value": 0.405},
      {"series": "Q-Learning:BatteryLevel1", "episode": 13, "value": 0.3937},
      {"series": "Q-Learning:BatteryLevel1", "episode": 15, "value": 0.396},
      {"series": "Q-Learning:BatteryLevel1", "episode": 18, "value": 0.4},
      {"series": "Q-Learning:BatteryLevel1", "episode": 21, "value": 0.3963},
      {"series": "Q-Learning:BatteryLevel1", "episode": 24, "value": 0.393},
      {"series": "Q-Learning:BatteryLevel1", "episode": 26, "value": 0.3896},
      {"series": "Q-Learning:BatteryLevel1", "episode": 28, "value": 0.3905},
      {"series": "Q-Learning:BatteryLevel1", "episode": 30, "value": 0.3915},
      {"series": "Q-Learning:BatteryLevel1", "episode": 34, "value": 0.396},
      {"series": "Q-Learning:BatteryLevel1", "episode": 39, "value": 0.4004},
      {"series": "Q-Learning:BatteryLevel1", "episode": 44, "value": 0.4},
      {"series": "Q-Learning:BatteryLevel1", "episode": 46, "value": 0.4064},
      {"series": "Q-Learning:BatteryLevel1", "episode": 50.5, "value": 0.4038},
      {"series": "Q-Learning:BatteryLevel1", "episode": 56, "value": 0.406},
      {"series": "Q-Learning:BatteryLevel1", "episode": 61, "value": 0.4067},
      {"series": "Q-Learning:BatteryLevel1", "episode": 64, "value": 0.4075},
      {"series": "Q-Learning:BatteryLevel1", "episode": 68, "value": 0.406},
      {"series": "Q-Learning:BatteryLevel1", "episode": 71, "value": 0.4064},
      {"series": "Q-Learning:BatteryLevel1", "episode": 77, "value": 0.4085},
      {"series": "Q-Learning:BatteryLevel1", "episode": 82, "value": 0.4101},
      {"series": "Q-Learning:BatteryLevel1", "episode": 86, "value": 0.409},
      {"series": "Q-Learning:BatteryLevel1", "episode": 89, "value": 0.4082},
      {"series": "Q-Learning:BatteryLevel1", "episode": 93, "value": 0.407},
      {"series": "Q-Learning:BatteryLevel1", "episode": 96, "value": 0.4064},
      {"series": "Q-Learning:BatteryLevel1", "episode": 101, "value": 0.4073},
      {"series": "Q-Learning:BatteryLevel1", "episode": 105, "value": 0.4079},
      {"series": "Q-Learning:BatteryLevel1", "episode": 109, "value": 0.408},
      {"series": "Q-Learning:BatteryLevel1", "episode": 113, "value": 0.4082},
      {"series": "Q-Learning:BatteryLevel1", "episode": 118, "value": 0.406},
      {"series": "Q-Learning:BatteryLevel1", "episode": 125, "value": 0.4049},
      {"series": "Q-Learning:BatteryLevel1", "episode": 132, "value": 0.4027},
      {"series": "Q-Learning:BatteryLevel1", "episode": 137, "value": 0.402},
      {"series": "Q-Learning:BatteryLevel1", "episode": 141, "value": 0.4015},
      {"series": "Q-Learning:BatteryLevel1", "episode": 147, "value": 0.3989},
      {"series": "Q-Learning:BatteryLevel1", "episode": 154, "value": 0.3989},
      {"series": "Q-Learning:BatteryLevel1", "episode": 159, "value": 0.3991},
      {"series": "Q-Learning:BatteryLevel1", "episode": 164, "value": 0.4},
      {"series": "Q-Learning:BatteryLevel1", "episode": 168, "value": 0.4009},
      {"series": "Q-Learning:BatteryLevel1", "episode": 175, "value": 0.4015},
      {"series": "Q-Learning:BatteryLevel1", "episode": 182, "value": 0.4019},
      {"series": "Q-Learning:BatteryLevel1", "episode": 188, "value": 0.401},
      {"series": "Q-Learning:BatteryLevel1", "episode": 194, "value": 0.4005},
      {"series": "Q-Learning:BatteryLevel1", "episode": 200, "value": 0.4007},
      {"series": "Q-Learning:BatteryLevel1", "episode": 207, "value": 0.3995},
      {"series": "Q-Learning:BatteryLevel1", "episode": 213.5, "value": 0.3986},
      {"series": "Q-Learning:BatteryLevel1", "episode": 222, "value": 0.3991},
      {"series": "Q-Learning:BatteryLevel1", "episode": 229, "value": 0.3988},
      {"series": "Q-Learning:BatteryLevel1", "episode": 235, "value": 0.3996},
      {"series": "Q-Learning:BatteryLevel1", "episode": 240.5, "value": 0.4004},
      {"series": "Q-Learning:BatteryLevel1", "episode": 246, "value": 0.4},
      {"series": "Q-Learning:BatteryLevel1", "episode": 251.5, "value": 0.3997},
      {"series": "Q-Learning:BatteryLevel1", "episode": 258, "value": 0.3998},
      {"series": "Q-Learning:BatteryLevel1", "episode": 265, "value": 0.3999},
      {"series": "Q-Learning:BatteryLevel1", "episode": 274, "value": 0.3989},
      {"series": "Q-Learning:BatteryLevel1", "episode": 280, "value": 0.3992},
      {"series": "Q-Learning:BatteryLevel1", "episode": 285, "value": 0.3995},
      {"series": "Q-Learning:BatteryLevel1", "episode": 292, "value": 0.399},
      {"series": "Q-Learning:BatteryLevel1", "episode": 299, "value": 0.3984},
      {"series": "Q-Learning:BatteryLevel1", "episode": 308, "value": 0.3982},
      {"series": "Q-Learning:BatteryLevel1", "episode": 317, "value": 0.3988},
      {"series": "Q-Learning:BatteryLevel1", "episode": 326, "value": 0.3987},
      {"series": "Q-Learning:BatteryLevel1", "episode": 335, "value": 0.3989},
      {"series": "Q-Learning:BatteryLevel1", "episode": 344, "value": 0.3997},
      {"series": "Q-Learning:BatteryLevel1", "episode": 351, "value": 0.3993},
      {"series": "Q-Learning:BatteryLevel1", "episode": 357.7, "value": 0.3991},
      {"series": "Q-Learning:BatteryLevel1", "episode": 364, "value": 0.3988},
      {"series": "Q-Learning:BatteryLevel1", "episode": 371, "value": 0.3984},
      {"series": "Q-Learning:BatteryLevel1", "episode": 382.5, "value": 0.398},
      {"series": "Q-Learning:BatteryLevel1", "episode": 391.5, "value": 0.3986},
      {"series": "Q-Learning:BatteryLevel1", "episode": 396, "value": 0.3984},
      {"series": "Q-Learning:BatteryLevel1", "episode": 402.7, "value": 0.3983},
      {"series": "Q-Learning:BatteryLevel1", "episode": 409, "value": 0.3985},
      {"series": "Q-Learning:BatteryLevel1", "episode": 416, "value": 0.3984},
      {"series": "Q-Learning:BatteryLevel1", "episode": 420, "value": 0.3988},
      {"series": "Q-Learning:BatteryLevel1", "episode": 425, "value": 0.3995},
      {"series": "Q-Learning:BatteryLevel1", "episode": 431, "value": 0.3997},
      {"series": "Q-Learning:BatteryLevel1", "episode": 437, "value": 0.3997},
      {"series": "Q-Learning:BatteryLevel1", "episode": 443, "value": 0.3995},
      {"series": "Q-Learning:BatteryLevel1", "episode": 448, "value": 0.3993},
      {"series": "Q-Learning:BatteryLevel1", "episode": 452, "value": 0.399},
      {"series": "Q-Learning:BatteryLevel1", "episode": 457, "value": 0.3986},
      {"series": "Q-Learning:BatteryLevel1", "episode": 463, "value": 0.3985},
      {"series": "Q-Learning:BatteryLevel1", "episode": 470, "value": 0.3984},
      {"series": "Q-Learning:BatteryLevel1", "episode": 476, "value": 0.3985},
      {"series": "Q-Learning:BatteryLevel1", "episode": 481, "value": 0.3986},
      {"series": "Q-Learning:BatteryLevel1", "episode": 488, "value": 0.3985},
      {"series": "Q-Learning:BatteryLevel1", "episode": 496, "value": 0.3984},
      {"series": "Q-Learning:BatteryLevel1", "episode": 500, "value": 0.3985},

      {"series": "Q-Learning:BatteryLevel2", "episode": 0, "value": 0.41},
      {"series": "Q-Learning:BatteryLevel2", "episode": 0.5, "value": 0.4635},
      {"series": "Q-Learning:BatteryLevel2", "episode": 1, "value": 0.409},
      {"series": "Q-Learning:BatteryLevel2", "episode": 3, "value": 0.415},
      {"series": "Q-Learning:BatteryLevel2", "episode": 5, "value": 0.4183},
      {"series": "Q-Learning:BatteryLevel2", "episode": 7, "value": 0.4205},
      {"series": "Q-Learning:BatteryLevel2", "episode": 9, "value": 0.4217},
      {"series": "Q-Learning:BatteryLevel2", "episode": 11, "value": 0.417},
      {"series": "Q-Learning:BatteryLevel2", "episode": 13, "value": 0.4116},
      {"series": "Q-Learning:BatteryLevel2", "episode": 17, "value": 0.415},
      {"series": "Q-Learning:BatteryLevel2", "episode": 22, "value": 0.4108},
      {"series": "Q-Learning:BatteryLevel2", "episode": 26, "value": 0.413},
      {"series": "Q-Learning:BatteryLevel2", "episode": 31, "value": 0.4161},
      {"series": "Q-Learning:BatteryLevel2", "episode": 34, "value": 0.4145},
      {"series": "Q-Learning:BatteryLevel2", "episode": 37, "value": 0.412},
      {"series": "Q-Learning:BatteryLevel2", "episode": 43, "value": 0.4075},
      {"series": "Q-Learning:BatteryLevel2", "episode": 50, "value": 0.4064},
      {"series": "Q-Learning:BatteryLevel2", "episode": 53, "value": 0.404},
      {"series": "Q-Learning:BatteryLevel2", "episode": 56, "value": 0.4023},
      {"series": "Q-Learning:BatteryLevel2", "episode": 61, "value": 0.4042},
      {"series": "Q-Learning:BatteryLevel2", "episode": 68, "value": 0.403},
      {"series": "Q-Learning:BatteryLevel2", "episode": 74, "value": 0.4015},
      {"series": "Q-Learning:BatteryLevel2", "episode": 78, "value": 0.4025},
      {"series": "Q-Learning:BatteryLevel2", "episode": 82, "value": 0.4038},
      {"series": "Q-Learning:BatteryLevel2", "episode": 88, "value": 0.4035},
      {"series": "Q-Learning:BatteryLevel2", "episode": 93, "value": 0.4038},
      {"series": "Q-Learning:BatteryLevel2", "episode": 99, "value": 0.4049},
      {"series": "Q-Learning:BatteryLevel2", "episode": 105, "value": 0.406},
      {"series": "Q-Learning:BatteryLevel2", "episode": 112, "value": 0.4042},
      {"series": "Q-Learning:BatteryLevel2", "episode": 117, "value": 0.4034},
      {"series": "Q-Learning:BatteryLevel2", "episode": 122, "value": 0.4032},
      {"series": "Q-Learning:BatteryLevel2", "episode": 128, "value": 0.403},
      {"series": "Q-Learning:BatteryLevel2", "episode": 133, "value": 0.4027},
      {"series": "Q-Learning:BatteryLevel2", "episode": 139, "value": 0.4023},
      {"series": "Q-Learning:BatteryLevel2", "episode": 145, "value": 0.4027},
      {"series": "Q-Learning:BatteryLevel2", "episode": 150, "value": 0.403},
      {"series": "Q-Learning:BatteryLevel2", "episode": 155, "value": 0.4033},
      {"series": "Q-Learning:BatteryLevel2", "episode": 160, "value": 0.403},
      {"series": "Q-Learning:BatteryLevel2", "episode": 168, "value": 0.404},
      {"series": "Q-Learning:BatteryLevel2", "episode": 177, "value": 0.4043},
      {"series": "Q-Learning:BatteryLevel2", "episode": 186, "value": 0.4047},
      {"series": "Q-Learning:BatteryLevel2", "episode": 190, "value": 0.4042},
      {"series": "Q-Learning:BatteryLevel2", "episode": 195, "value": 0.4037},
      {"series": "Q-Learning:BatteryLevel2", "episode": 203, "value": 0.4046},
      {"series": "Q-Learning:BatteryLevel2", "episode": 209, "value": 0.4048},
      {"series": "Q-Learning:BatteryLevel2", "episode": 215, "value": 0.4043},
      {"series": "Q-Learning:BatteryLevel2", "episode": 222, "value": 0.4044},
      {"series": "Q-Learning:BatteryLevel2", "episode": 229, "value": 0.4043},
      {"series": "Q-Learning:BatteryLevel2", "episode": 238, "value": 0.4045},
      {"series": "Q-Learning:BatteryLevel2", "episode": 246, "value": 0.4044},
      {"series": "Q-Learning:BatteryLevel2", "episode": 254, "value": 0.4048},
      {"series": "Q-Learning:BatteryLevel2", "episode": 261, "value": 0.4043},
      {"series": "Q-Learning:BatteryLevel2", "episode": 267.5, "value": 0.404},
      {"series": "Q-Learning:BatteryLevel2", "episode": 277.7, "value": 0.4047},
      {"series": "Q-Learning:BatteryLevel2", "episode": 285, "value": 0.404},
      {"series": "Q-Learning:BatteryLevel2", "episode": 293, "value": 0.4036},
      {"series": "Q-Learning:BatteryLevel2", "episode": 301, "value": 0.4031},
      {"series": "Q-Learning:BatteryLevel2", "episode": 307, "value": 0.4028},
      {"series": "Q-Learning:BatteryLevel2", "episode": 312.6, "value": 0.4026},
      {"series": "Q-Learning:BatteryLevel2", "episode": 321.6, "value": 0.4023},
      {"series": "Q-Learning:BatteryLevel2", "episode": 328, "value": 0.403},
      {"series": "Q-Learning:BatteryLevel2", "episode": 335, "value": 0.4038},
      {"series": "Q-Learning:BatteryLevel2", "episode": 344, "value": 0.4042},
      {"series": "Q-Learning:BatteryLevel2", "episode": 353, "value": 0.4047},
      {"series": "Q-Learning:BatteryLevel2", "episode": 366, "value": 0.4047},
      {"series": "Q-Learning:BatteryLevel2", "episode": 380, "value": 0.4048},
      {"series": "Q-Learning:BatteryLevel2", "episode": 390, "value": 0.4049},
      {"series": "Q-Learning:BatteryLevel2", "episode": 402.7, "value": 0.4051},
      {"series": "Q-Learning:BatteryLevel2", "episode": 416, "value": 0.4048},
      {"series": "Q-Learning:BatteryLevel2", "episode": 423, "value": 0.4051},
      {"series": "Q-Learning:BatteryLevel2", "episode": 430, "value": 0.4052},
      {"series": "Q-Learning:BatteryLevel2", "episode": 440, "value": 0.4054},
      {"series": "Q-Learning:BatteryLevel2", "episode": 448, "value": 0.4056},
      {"series": "Q-Learning:BatteryLevel2", "episode": 458, "value": 0.4056},
      {"series": "Q-Learning:BatteryLevel2", "episode": 470, "value": 0.4055},
      {"series": "Q-Learning:BatteryLevel2", "episode": 484, "value": 0.4052},
      {"series": "Q-Learning:BatteryLevel2", "episode": 490, "value": 0.4054},
      {"series": "Q-Learning:BatteryLevel2", "episode": 500, "value": 0.4055},

      {"series": "Q-Learning:BatteryLevel3", "episode": 0, "value": 0.4175},
      {"series": "Q-Learning:BatteryLevel3", "episode": 0.5, "value": 0.436},
      {"series": "Q-Learning:BatteryLevel3", "episode": 2, "value": 0.4325},
      {"series": "Q-Learning:BatteryLevel3", "episode": 3, "value": 0.43},
      {"series": "Q-Learning:BatteryLevel3", "episode": 5, "value": 0.4265},
      {"series": "Q-Learning:BatteryLevel3", "episode": 7, "value": 0.4288},
      {"series": "Q-Learning:BatteryLevel3", "episode": 8, "value": 0.4228},
      {"series": "Q-Learning:BatteryLevel3", "episode": 10, "value": 0.4187},
      {"series": "Q-Learning:BatteryLevel3", "episode": 12, "value": 0.4172},
      {"series": "Q-Learning:BatteryLevel3", "episode": 15, "value": 0.418},
      {"series": "Q-Learning:BatteryLevel3", "episode": 18, "value": 0.4175},
      {"series": "Q-Learning:BatteryLevel3", "episode": 21, "value": 0.4138},
      {"series": "Q-Learning:BatteryLevel3", "episode": 24, "value": 0.414},
      {"series": "Q-Learning:BatteryLevel3", "episode": 27, "value": 0.4134},
      {"series": "Q-Learning:BatteryLevel3", "episode": 31, "value": 0.4108},
      {"series": "Q-Learning:BatteryLevel3", "episode": 35, "value": 0.4112},
      {"series": "Q-Learning:BatteryLevel3", "episode": 38, "value": 0.4108},
      {"series": "Q-Learning:BatteryLevel3", "episode": 45, "value": 0.409},
      {"series": "Q-Learning:BatteryLevel3", "episode": 50, "value": 0.4105},
      {"series": "Q-Learning:BatteryLevel3", "episode": 57, "value": 0.4097},
      {"series": "Q-Learning:BatteryLevel3", "episode": 62, "value": 0.4095},
      {"series": "Q-Learning:BatteryLevel3", "episode": 66, "value": 0.409},
      {"series": "Q-Learning:BatteryLevel3", "episode": 73, "value": 0.4071},
      {"series": "Q-Learning:BatteryLevel3", "episode": 78, "value": 0.407},
      {"series": "Q-Learning:BatteryLevel3", "episode": 84, "value": 0.4064},
      {"series": "Q-Learning:BatteryLevel3", "episode": 90, "value": 0.406},
      {"series": "Q-Learning:BatteryLevel3", "episode": 96, "value": 0.4056},
      {"series": "Q-Learning:BatteryLevel3", "episode": 102, "value": 0.4054},
      {"series": "Q-Learning:BatteryLevel3", "episode": 107, "value": 0.4049},
      {"series": "Q-Learning:BatteryLevel3", "episode": 113, "value": 0.4045},
      {"series": "Q-Learning:BatteryLevel3", "episode": 118, "value": 0.4042},
      {"series": "Q-Learning:BatteryLevel3", "episode": 124, "value": 0.404},
      {"series": "Q-Learning:BatteryLevel3", "episode": 129, "value": 0.4038},
      {"series": "Q-Learning:BatteryLevel3", "episode": 135, "value": 0.4036},
      {"series": "Q-Learning:BatteryLevel3", "episode": 141, "value": 0.4034},
      {"series": "Q-Learning:BatteryLevel3", "episode": 146, "value": 0.4027},
      {"series": "Q-Learning:BatteryLevel3", "episode": 150, "value": 0.4023},
      {"series": "Q-Learning:BatteryLevel3", "episode": 155, "value": 0.4023},
      {"series": "Q-Learning:BatteryLevel3", "episode": 160, "value": 0.4027},
      {"series": "Q-Learning:BatteryLevel3", "episode": 166, "value": 0.403},
      {"series": "Q-Learning:BatteryLevel3", "episode": 173, "value": 0.4033},
      {"series": "Q-Learning:BatteryLevel3", "episode": 181, "value": 0.4035},
      {"series": "Q-Learning:BatteryLevel3", "episode": 189, "value": 0.4037},
      {"series": "Q-Learning:BatteryLevel3", "episode": 195, "value": 0.4036},
      {"series": "Q-Learning:BatteryLevel3", "episode": 200, "value": 0.4035},
      {"series": "Q-Learning:BatteryLevel3", "episode": 206, "value": 0.4032},
      {"series": "Q-Learning:BatteryLevel3", "episode": 213, "value": 0.403},
      {"series": "Q-Learning:BatteryLevel3", "episode": 221, "value": 0.403},
      {"series": "Q-Learning:BatteryLevel3", "episode": 229, "value": 0.4031},
      {"series": "Q-Learning:BatteryLevel3", "episode": 236, "value": 0.4033},
      {"series": "Q-Learning:BatteryLevel3", "episode": 244, "value": 0.4028},
      {"series": "Q-Learning:BatteryLevel3", "episode": 252, "value": 0.4025},
      {"series": "Q-Learning:BatteryLevel3", "episode": 260, "value": 0.4027},
      {"series": "Q-Learning:BatteryLevel3", "episode": 267, "value": 0.4026},
      {"series": "Q-Learning:BatteryLevel3", "episode": 274, "value": 0.4022},
      {"series": "Q-Learning:BatteryLevel3", "episode": 281, "value": 0.4019},
      {"series": "Q-Learning:BatteryLevel3", "episode": 290, "value": 0.4019},
      {"series": "Q-Learning:BatteryLevel3", "episode": 299, "value": 0.4018},
      {"series": "Q-Learning:BatteryLevel3", "episode": 306, "value": 0.4017},
      {"series": "Q-Learning:BatteryLevel3", "episode": 312.5, "value": 0.4016},
      {"series": "Q-Learning:BatteryLevel3", "episode": 317, "value": 0.4019},
      {"series": "Q-Learning:BatteryLevel3", "episode": 322, "value": 0.4021},
      {"series": "Q-Learning:BatteryLevel3", "episode": 328, "value": 0.4016},
      {"series": "Q-Learning:BatteryLevel3", "episode": 335, "value": 0.4019},
      {"series": "Q-Learning:BatteryLevel3", "episode": 342, "value": 0.4022},
      {"series": "Q-Learning:BatteryLevel3", "episode": 350, "value": 0.4024},
      {"series": "Q-Learning:BatteryLevel3", "episode": 357.7, "value": 0.4026},
      {"series": "Q-Learning:BatteryLevel3", "episode": 365, "value": 0.4023},
      {"series": "Q-Learning:BatteryLevel3", "episode": 373, "value": 0.402},
      {"series": "Q-Learning:BatteryLevel3", "episode": 380, "value": 0.4024},
      {"series": "Q-Learning:BatteryLevel3", "episode": 387, "value": 0.4028},
      {"series": "Q-Learning:BatteryLevel3", "episode": 394, "value": 0.403},
      {"series": "Q-Learning:BatteryLevel3", "episode": 402, "value": 0.403},
      {"series": "Q-Learning:BatteryLevel3", "episode": 410, "value": 0.403},
      {"series": "Q-Learning:BatteryLevel3", "episode": 416, "value": 0.4028},
      {"series": "Q-Learning:BatteryLevel3", "episode": 423, "value": 0.4027},
      {"series": "Q-Learning:BatteryLevel3", "episode": 430, "value": 0.4029},
      {"series": "Q-Learning:BatteryLevel3", "episode": 436, "value": 0.4029},
      {"series": "Q-Learning:BatteryLevel3", "episode": 442, "value": 0.4031},
      {"series": "Q-Learning:BatteryLevel3", "episode": 448, "value": 0.4035},
      {"series": "Q-Learning:BatteryLevel3", "episode": 457, "value": 0.4037},
      {"series": "Q-Learning:BatteryLevel3", "episode": 466, "value": 0.4038},
      {"series": "Q-Learning:BatteryLevel3", "episode": 473, "value": 0.4039},
      {"series": "Q-Learning:BatteryLevel3", "episode": 480, "value": 0.404},
      {"series": "Q-Learning:BatteryLevel3", "episode": 488, "value": 0.4039},
      {"series": "Q-Learning:BatteryLevel3", "episode": 496, "value": 0.4038},
      {"series": "Q-Learning:BatteryLevel3", "episode": 500, "value": 0.4038}
    ],
    "arrows": [
      {"episode": 337.4, "value": 0.45487, "episode0": 256.7, "value0": 0.46263, "angle": 128.1},
      {"episode": 337.4, "value": 0.44829, "episode0": 228.9, "value0": 0.40218, "angle": 16.1},
      {"episode": 547.0, "value": 0.43339, "episode0": 481.6, "value0": 0.43846, "angle": 122.2},
      {"episode": 546.5, "value": 0.4271, "episode0": 289.2, "value0": 0.40393, "angle": 53.8},
      {"episode": 757.9, "value": 0.41763, "episode0": 824.2, "value0": 0.41215, "angle": 304.0},
      {"episode": 757.9, "value": 0.41763, "episode0": 504.4, "value0": 0.39821, "angle": 58.1}
    ],
    "notes": [
      {"note": "BatteryLevel3", "episode": 338.1, "value": 0.45064},
      {"note": "BatteryLevel2", "episode": 547.5, "value": 0.42932},
      {"note": "BatteryLevel1", "episode": 760.6, "value": 0.41946},
      {"note": "DQN-based", "episode": 855.0, "value": 0.45064},
      {"note": "Q-learning", "episode": 340.8, "value": 0.3918}
    ],
    "regions": [
      {"region": "DQN-based", "episode": 960.8, "value": 0.43494},
      {"region": "Q-learning", "episode": 452.3, "value": 0.40012}
    ]
  },
  "layer": [
    {
      "data": {"name": "curves"},
      "mark": {"type": "line", "strokeWidth": 6.5, "strokeJoin": "round", "strokeCap": "round", "clip": true},
      "encoding": {
        "x": {
          "field": "episode",
          "type": "quantitative",
          "scale": {"domain": [-50.7, 1050], "nice": false, "zero": false},
          "axis": {"title": "training episodes", "values": [0, 200, 400, 600, 800, 1000], "format": "d", "labelPadding": 17, "titlePadding": 14}
        },
        "y": {
          "field": "value",
          "type": "quantitative",
          "scale": {"domain": [0.3763, 0.4764], "nice": false, "zero": false},
          "axis": {"title": "Average_Return", "values": [0.38, 0.4, 0.42, 0.44, 0.46], "format": ".2f", "labelPadding": 18, "titlePadding": 24}
        },
        "color": {
          "field": "series",
          "type": "nominal",
          "scale": {
            "domain": ["Proposed:BatteryLevel1", "Proposed:BatteryLevel2", "Proposed:BatteryLevel3", "Q-Learning:BatteryLevel1", "Q-Learning:BatteryLevel2", "Q-Learning:BatteryLevel3"],
            "range": ["#1f77b4", "#ff7f0e", "#2ca02c", "#d62728", "#9467bd", "#8c564b"]
          },
          "legend": {
            "title": null,
            "orient": "none",
            "legendX": 1080,
            "legendY": 888,
            "labelFont": "DejaVu Sans",
            "labelFontSize": 32,
            "labelColor": "#262626",
            "labelLimit": 700,
            "symbolType": "M-1.15,0L2.4,0",
            "symbolSize": 1600,
            "symbolStrokeWidth": 6,
            "rowPadding": 8.5,
            "labelOffset": 52,
            "padding": 9,
            "fillColor": "white",
            "strokeColor": "#d0d0d0",
            "cornerRadius": 6
          }
        }
      }
    },
    {
      "data": {"name": "arrows"},
      "mark": {"type": "rule", "color": "#c00000", "strokeWidth": 3},
      "encoding": {
        "x": {"field": "episode", "type": "quantitative"},
        "y": {"field": "value", "type": "quantitative"},
        "x2": {"field": "episode0"},
        "y2": {"field": "value0"}
      }
    },
    {
      "data": {"name": "arrows"},
      "mark": {"type": "point", "shape": "M-0.5,0.866L0,0L0.5,0.866", "size": 3600, "filled": false, "stroke": "#c00000", "strokeWidth": 3, "opacity": 1},
      "encoding": {
        "x": {"field": "episode", "type": "quantitative"},
        "y": {"field": "value", "type": "quantitative"},
        "angle": {"field": "angle", "type": "quantitative", "scale": null}
      }
    },
    {
      "data": {"name": "regions"},
      "transform": [{"filter": "datum.region === 'DQN-based'"}],
      "mark": {"type": "point", "shape": "M0,-1C0.0653,-1,0.1183,-0.5523,0.1183,0C0.1183,0.5523,0.0653,1,0,1C-0.0653,1,-0.1183,0.5523,-0.1183,0C-0.1183,-0.5523,-0.0653,-1,0,-1Z", "size": 468677, "filled": false, "stroke": "#c00000", "strokeWidth": 3.5, "strokeDash": [20, 9], "opacity": 1},
      "encoding": {
        "x": {"field": "episode", "type": "quantitative"},
        "y": {"field": "value", "type": "quantitative"}
      }
    },
    {
      "data": {"name": "regions"},
      "transform": [{"filter": "datum.region === 'Q-learning'"}],
      "mark": {"type": "point", "shape": "M0,-1C0.1814,-1,0.3285,-0.5523,0.3285,0C0.3285,0.5523,0.1814,1,0,1C-0.1814,1,-0.3285,0.5523,-0.3285,0C-0.3285,-0.5523,-0.1814,-1,0,-1Z", "size": 62300, "filled": false, "stroke": "#c00000", "strokeWidth": 3.5, "strokeDash": [20, 9], "opacity": 1},
      "encoding": {
        "x": {"field": "episode", "type": "quantitative"},
        "y": {"field": "value", "type": "quantitative"}
      }
    },
    {
      "data": {"name": "notes"},
      "mark": {"type": "text", "font": "Liberation Sans", "fontSize": 40, "color": "#c00000", "align": "center", "baseline": "alphabetic"},
      "encoding": {
        "x": {"field": "episode", "type": "quantitative"},
        "y": {"field": "value", "type": "quantitative"},
        "text": {"field": "note"}
      }
    }
  ]
}
